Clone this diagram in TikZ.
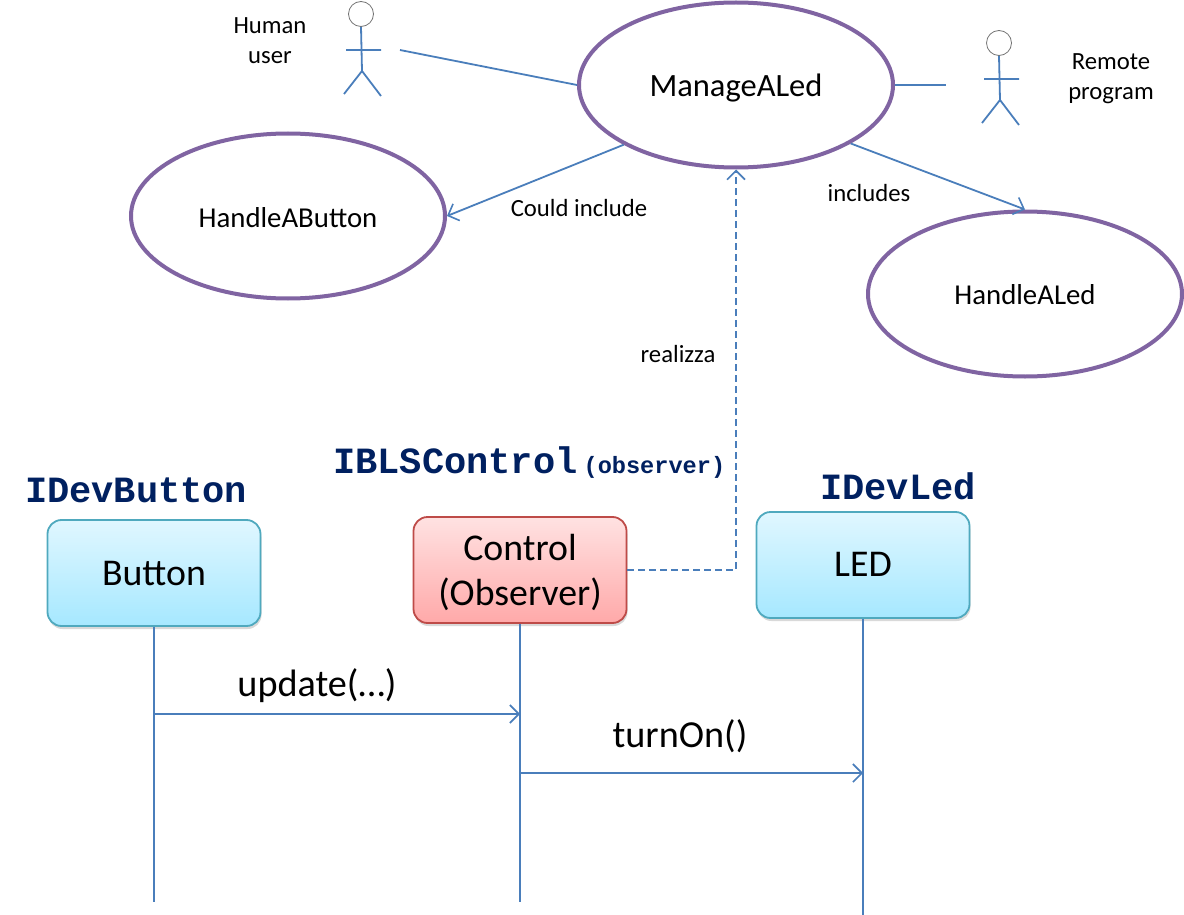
\documentclass[tikz,border=0pt]{standalone}
\usepackage{fontspec}
\setmainfont{Carlito}
\setmonofont{Liberation Mono}
\usepackage{xcolor}
\usetikzlibrary{shapes.geometric,shadows,arrows.meta}
\definecolor{linkblue}{HTML}{4A7EBB}
\definecolor{ovalpurple}{HTML}{8064A2}
\definecolor{nameblue}{HTML}{002060}
\definecolor{boxblue}{HTML}{4FA9BE}
\definecolor{boxred}{HTML}{BE4B48}
\definecolor{bluetop}{HTML}{E0F7FF}
\definecolor{bluebottom}{HTML}{A6E8FF}
\definecolor{redtop}{HTML}{FFE2E2}
\definecolor{redbottom}{HTML}{FFA9A9}
\newcommand{\sz}[1]{\fontsize{#1}{#1}\selectfont}
\tikzset{
  link/.style={draw=linkblue,line width=1.8pt},
  tip/.style={-{Straight Barb[length=9pt,width=18pt,line width=1.6pt]}},
  rise/.style={text height=#1,text depth=0pt},
  usecase/.style={ellipse,draw=ovalpurple,line width=4pt,fill=white,inner sep=0pt,minimum width=314pt,minimum height=165pt},
  lifebox/.style={rounded corners=14pt,minimum width=213pt,minimum height=106pt,inner sep=0pt,align=center,line width=1.8pt,
    font=\fontsize{37.8}{45}\selectfont,drop shadow={shadow xshift=1pt,shadow yshift=-3pt,opacity=0.3}},
  bluebox/.style={lifebox,draw=boxblue,top color=bluetop,bottom color=bluebottom},
  redbox/.style={lifebox,draw=boxred,top color=redtop,bottom color=redbottom},
  note/.style={font=\fontsize{24.7}{30}\selectfont,align=center,inner sep=0pt},
  msg/.style={font=\sz{38.2},inner sep=0pt},
  iface/.style={anchor=base west,inner sep=0pt,text=nameblue,font=\ttfamily\bfseries\sz{37}},
  actor/.pic={
    \node[circle,draw=black!55,line width=0.8pt,fill=white,minimum size=25pt,inner sep=0pt] (-head) at (0,0) {};
    \draw[link] (-head.south) -- (1,57) (-15,36) -- (20,36) (-17,80) -- (1,57) -- (20,82);
  }
}
\begin{document}
\begin{tikzpicture}[x=1pt,y=-1pt]
\useasboundingbox (0,0) rectangle (1184,915);

\node[usecase,font=\sz{32.5},rise=23pt] (manage) at (736,85) {ManageALed};
\node[usecase,font=\sz{28.8},rise=22pt] (handlebutton) at (288,216) {HandleAButton};
\node[usecase,font=\sz{28.8},rise=20pt] (handleled) at (1025,294) {HandleALed};

\pic (human) at (361,14) {actor};
\pic (remote) at (999,43) {actor};
\coordinate (humanend) at (400,50);
\coordinate (remoteend) at (946,85);

\node[note] (humanlabel) at (270,41) {Human\\user};
\node[note] (remotelabel) at (1111,79) {Remote\\program};
\node[note] (couldlabel) at (579,208) {Could include};
\node[note] (includeslabel) at (869,193) {includes};
\node[note] (realizzalabel) at (678,354) {realizza};

\node[bluebox,rise=24pt] (button) at (154,573) {Button};
\node[redbox,rise=70pt] (control) at (520,570) {Control\\(Observer)};
\node[bluebox,rise=23.4pt] (led) at (863,565) {LED};

\node[iface] (buttonname) at (25,502) {IDevButton};
\node[iface] (controlname) at (333,473) {IBLSControl\,{\sz{23.6}(observer)}};
\node[iface] (ledname) at (820,499) {IDevLed};

\coordinate (buttonend) at (154,902);
\coordinate (controlend) at (520,902);
\coordinate (ledend) at (863,915);
\coordinate (updatestart) at (154,714);
\coordinate (turnonstart) at (520,773);

% use case links
\draw[link] (humanend) -- (manage.west);
\draw[link] (manage.east) -- (remoteend);
\draw[link,tip] (manage.208) -- (handlebutton.east);
\draw[link,tip] (manage.333) -- (handleled.north);
\draw[link,tip,dash pattern=on 7pt off 4pt] (control.east) -| (manage.south);

% lifelines
\draw[link] (button.south) -- (buttonend);
\draw[link] (control.south) -- (controlend);
\draw[link] (led.south) -- (ledend);

% messages
\draw[link,tip] (updatestart) -- (updatestart -| control.south);
\draw[link,tip] (turnonstart) -- (turnonstart -| led.south);
\node[msg] (updatelabel) at (317,686) {update(…)};
\node[msg] (turnonlabel) at (680,736) {turnOn()};
\end{tikzpicture}
\end{document}
